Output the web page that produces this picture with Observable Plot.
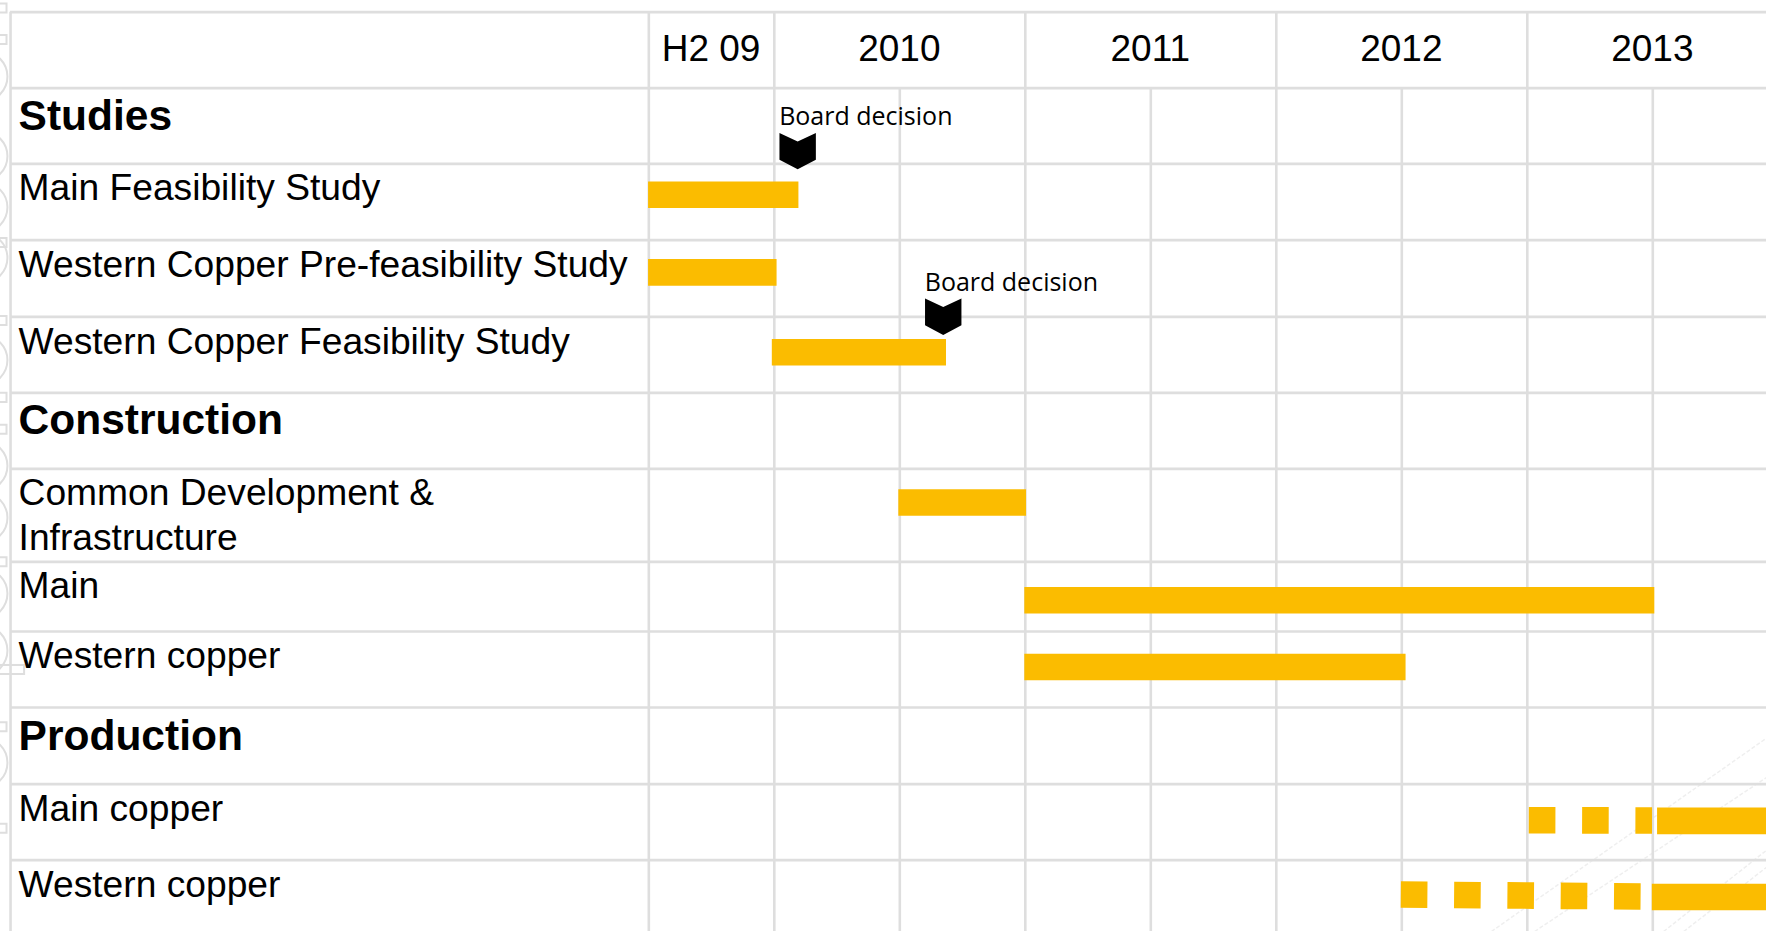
<!DOCTYPE html>
<html>
<head>
<meta charset="utf-8">
<title>Project timeline</title>
<style>
  html, body { margin: 0; padding: 0; background: #fff; overflow: hidden; }
  svg { display: block; }
</style>
<script src="https://cdn.jsdelivr.net/npm/d3@7"></script>
<script src="https://cdn.jsdelivr.net/npm/@observablehq/plot@0.6"></script>
</head>
<body>
<div id="chart"></div>
<script>
// Time axis, in decimal years. The label column sits left of the first period.
const timeStart = 2006.917;
const timeEnd = 2013.953;
const tableLeft = 2006.957;
const labelLeft = 2006.989;

// Header periods and the column boundaries of the table.
const periods = [
  {label: "H2 09", mid: 2009.75},
  {label: "2010", mid: 2010.5},
  {label: "2011", mid: 2011.5},
  {label: "2012", mid: 2012.5},
  {label: "2013", mid: 2013.5}
];
const periodEdges = [2009.5, 2010, 2011, 2012, 2013];
const halfYearEdges = [2010.5, 2011.5, 2012.5, 2013.5];

// Table rows: index 0 is the header, and the row heights differ.
const rowIndex = [0, 1, 2, 3, 4, 5, 6, 7, 8, 9, 10, 11, 12];
const rowEdges = [11.7, 87.7, 163.3, 239.7, 316.3, 392.3, 468.3, 561.3, 631, 707, 783.7, 859.7, 931];

const sections = [
  {label: "Studies", row: 1.375},
  {label: "Construction", row: 5.365},
  {label: "Production", row: 9.375}
];
const activities = [
  {label: "Main Feasibility Study", row: 2.285},
  {label: "Western Copper Pre-feasibility Study", row: 3.29},
  {label: "Western Copper Feasibility Study", row: 4.295},
  {label: "Common Development &\nInfrastructure", row: 6.478},
  {label: "Main", row: 7.31},
  {label: "Western copper", row: 8.29},
  {label: "Main copper", row: 10.29},
  {label: "Western copper", row: 11.32}
];

// Activity spans.
const firmSpans = [
  {start: 2009.497, end: 2010.096, row1: 2.406, row2: 2.406},
  {start: 2009.497, end: 2010.009, row1: 3.42, row2: 3.42},
  {start: 2009.99, end: 2010.684, row1: 4.466, row2: 4.466},
  {start: 2010.494, end: 2011.003, row1: 6.362, row2: 6.362},
  {start: 2010.996, end: 2013.506, row1: 7.551, row2: 7.551},
  {start: 2010.996, end: 2012.515, row1: 8.467, row2: 8.467},
  {start: 2013.517, end: timeEnd, row1: 10.482, row2: 10.482},
  {start: 2013.496, end: timeEnd, row1: 11.516, row2: 11.516}
];
// Ramp-up periods, drawn dashed.
const rampSpans = [
  {start: 2013.006, end: 2013.497, row1: 10.474, row2: 10.478},
  {start: 2012.496, end: 2013.452, row1: 11.482, row2: 11.509}
];

const decisions = [
  {time: 2010.093, row: 1.833, labelRow: 1.375},
  {time: 2010.673, row: 3.999, labelRow: 3.56}
];

// Leftover connector furniture in the gutter and the lower right corner.
const gutterCircleRows = [0.846, 1.90, 2.57, 3.23, 4.57, 5.96, 6.525, 7.456, 8.25, 9.72];
const gutterSquareRows = [-0.055, 0.359, 3.03, 4.05, 5.06, 5.48, 7.0, 9.25, 10.58];
const gutterBar = {x1: 2006.9, x2: 2007.013, y1: 8.447, y2: 8.566};
const faintDiagonals = [
  {x1: 2012.857, y1: 12, x2: timeEnd, y2: 9.40},
  {x1: 2013.029, y1: 12, x2: timeEnd, y2: 9.913},
  {x1: 2013.543, y1: 12, x2: timeEnd, y2: 10.87},
  {x1: 2013.623, y1: 12, x2: timeEnd, y2: 11.1}
];

const gridColor = "#dedede";
const barColor = "#fbbc00";
const labelFont = "'Liberation Sans', Arial, sans-serif";

// Downward chevron used for milestones.
const milestone = {
  draw(context, size) {
    const s = Math.sqrt(size / Math.PI);
    context.moveTo(-s, -s);
    context.lineTo(0, -0.53 * s);
    context.lineTo(s, -s);
    context.lineTo(s, 0.47 * s);
    context.lineTo(0, s);
    context.lineTo(-s, 0.47 * s);
    context.closePath();
  }
};

const chart = Plot.plot({
  width: 1766,
  height: 931,
  margin: 0,
  style: {background: "#fff"},
  x: {domain: [timeStart, timeEnd], range: [0, 1766], axis: null},
  y: {domain: rowIndex, range: rowEdges, type: "linear", axis: null},
  marks: [
    // Gutter furniture
    Plot.dot(gutterCircleRows, {x: () => 2006.845, y: d => d, r: 25, fill: "none", stroke: gridColor, strokeWidth: 2}),
    Plot.dot(gutterSquareRows, {x: () => 2006.923, y: d => d, r: 5.1, symbol: "square", fill: "none", stroke: gridColor, strokeWidth: 2}),
    Plot.rect([gutterBar], {x1: "x1", x2: "x2", y1: "y1", y2: "y2", fill: "none", stroke: gridColor, strokeWidth: 2}),
    Plot.link(faintDiagonals, {x1: "x1", y1: "y1", x2: "x2", y2: "y2", stroke: "#efefef", strokeWidth: 1.5, strokeDasharray: "4 2"}),

    // Table grid
    Plot.ruleY(rowIndex.slice(0, 12), {x1: () => tableLeft, x2: () => timeEnd, y: d => d, stroke: gridColor, strokeWidth: 2.7}),
    Plot.ruleX([tableLeft], {x: d => d, y1: () => 0, y2: () => 12, stroke: gridColor, strokeWidth: 2.6}),
    Plot.ruleX(periodEdges, {x: d => d, y1: () => 0, y2: () => 12, stroke: gridColor, strokeWidth: 2.6}),
    Plot.ruleX(halfYearEdges, {x: d => d, y1: () => 1, y2: () => 12, stroke: gridColor, strokeWidth: 2.6}),

    // Activity bars
    Plot.link(firmSpans, {x1: "start", x2: "end", y1: "row1", y2: "row2", stroke: barColor, strokeWidth: 26.6}),
    Plot.link(rampSpans, {x1: "start", x2: "end", y1: "row1", y2: "row2", stroke: barColor, strokeWidth: 26.6, strokeDasharray: "26.6 26.7"}),

    // Milestones
    Plot.dot(decisions, {x: "time", y: "row", r: 18.2, symbol: milestone, fill: "#000", stroke: "none"}),
    Plot.text(decisions, {x: "time", y: "labelRow", dx: -18.5, text: () => "Board decision", textAnchor: "start", fontFamily: "'Open Sans', sans-serif", fontSize: 25, fill: "#000"}),

    // Text columns
    Plot.text(periods, {x: "mid", y: () => 0.48, dx: -0.5, text: "label", fontFamily: labelFont, fontSize: 37, fill: "#000"}),
    Plot.text(sections, {x: () => labelLeft, y: "row", text: "label", textAnchor: "start", fontFamily: labelFont, fontWeight: "bold", fontSize: 42.5, fill: "#000"}),
    Plot.text(activities, {x: () => labelLeft, y: "row", text: "label", textAnchor: "start", fontFamily: labelFont, fontSize: 37.2, lineHeight: 1.2, fill: "#000"})
  ]
});

document.getElementById("chart").append(chart);
</script>
</body>
</html>
